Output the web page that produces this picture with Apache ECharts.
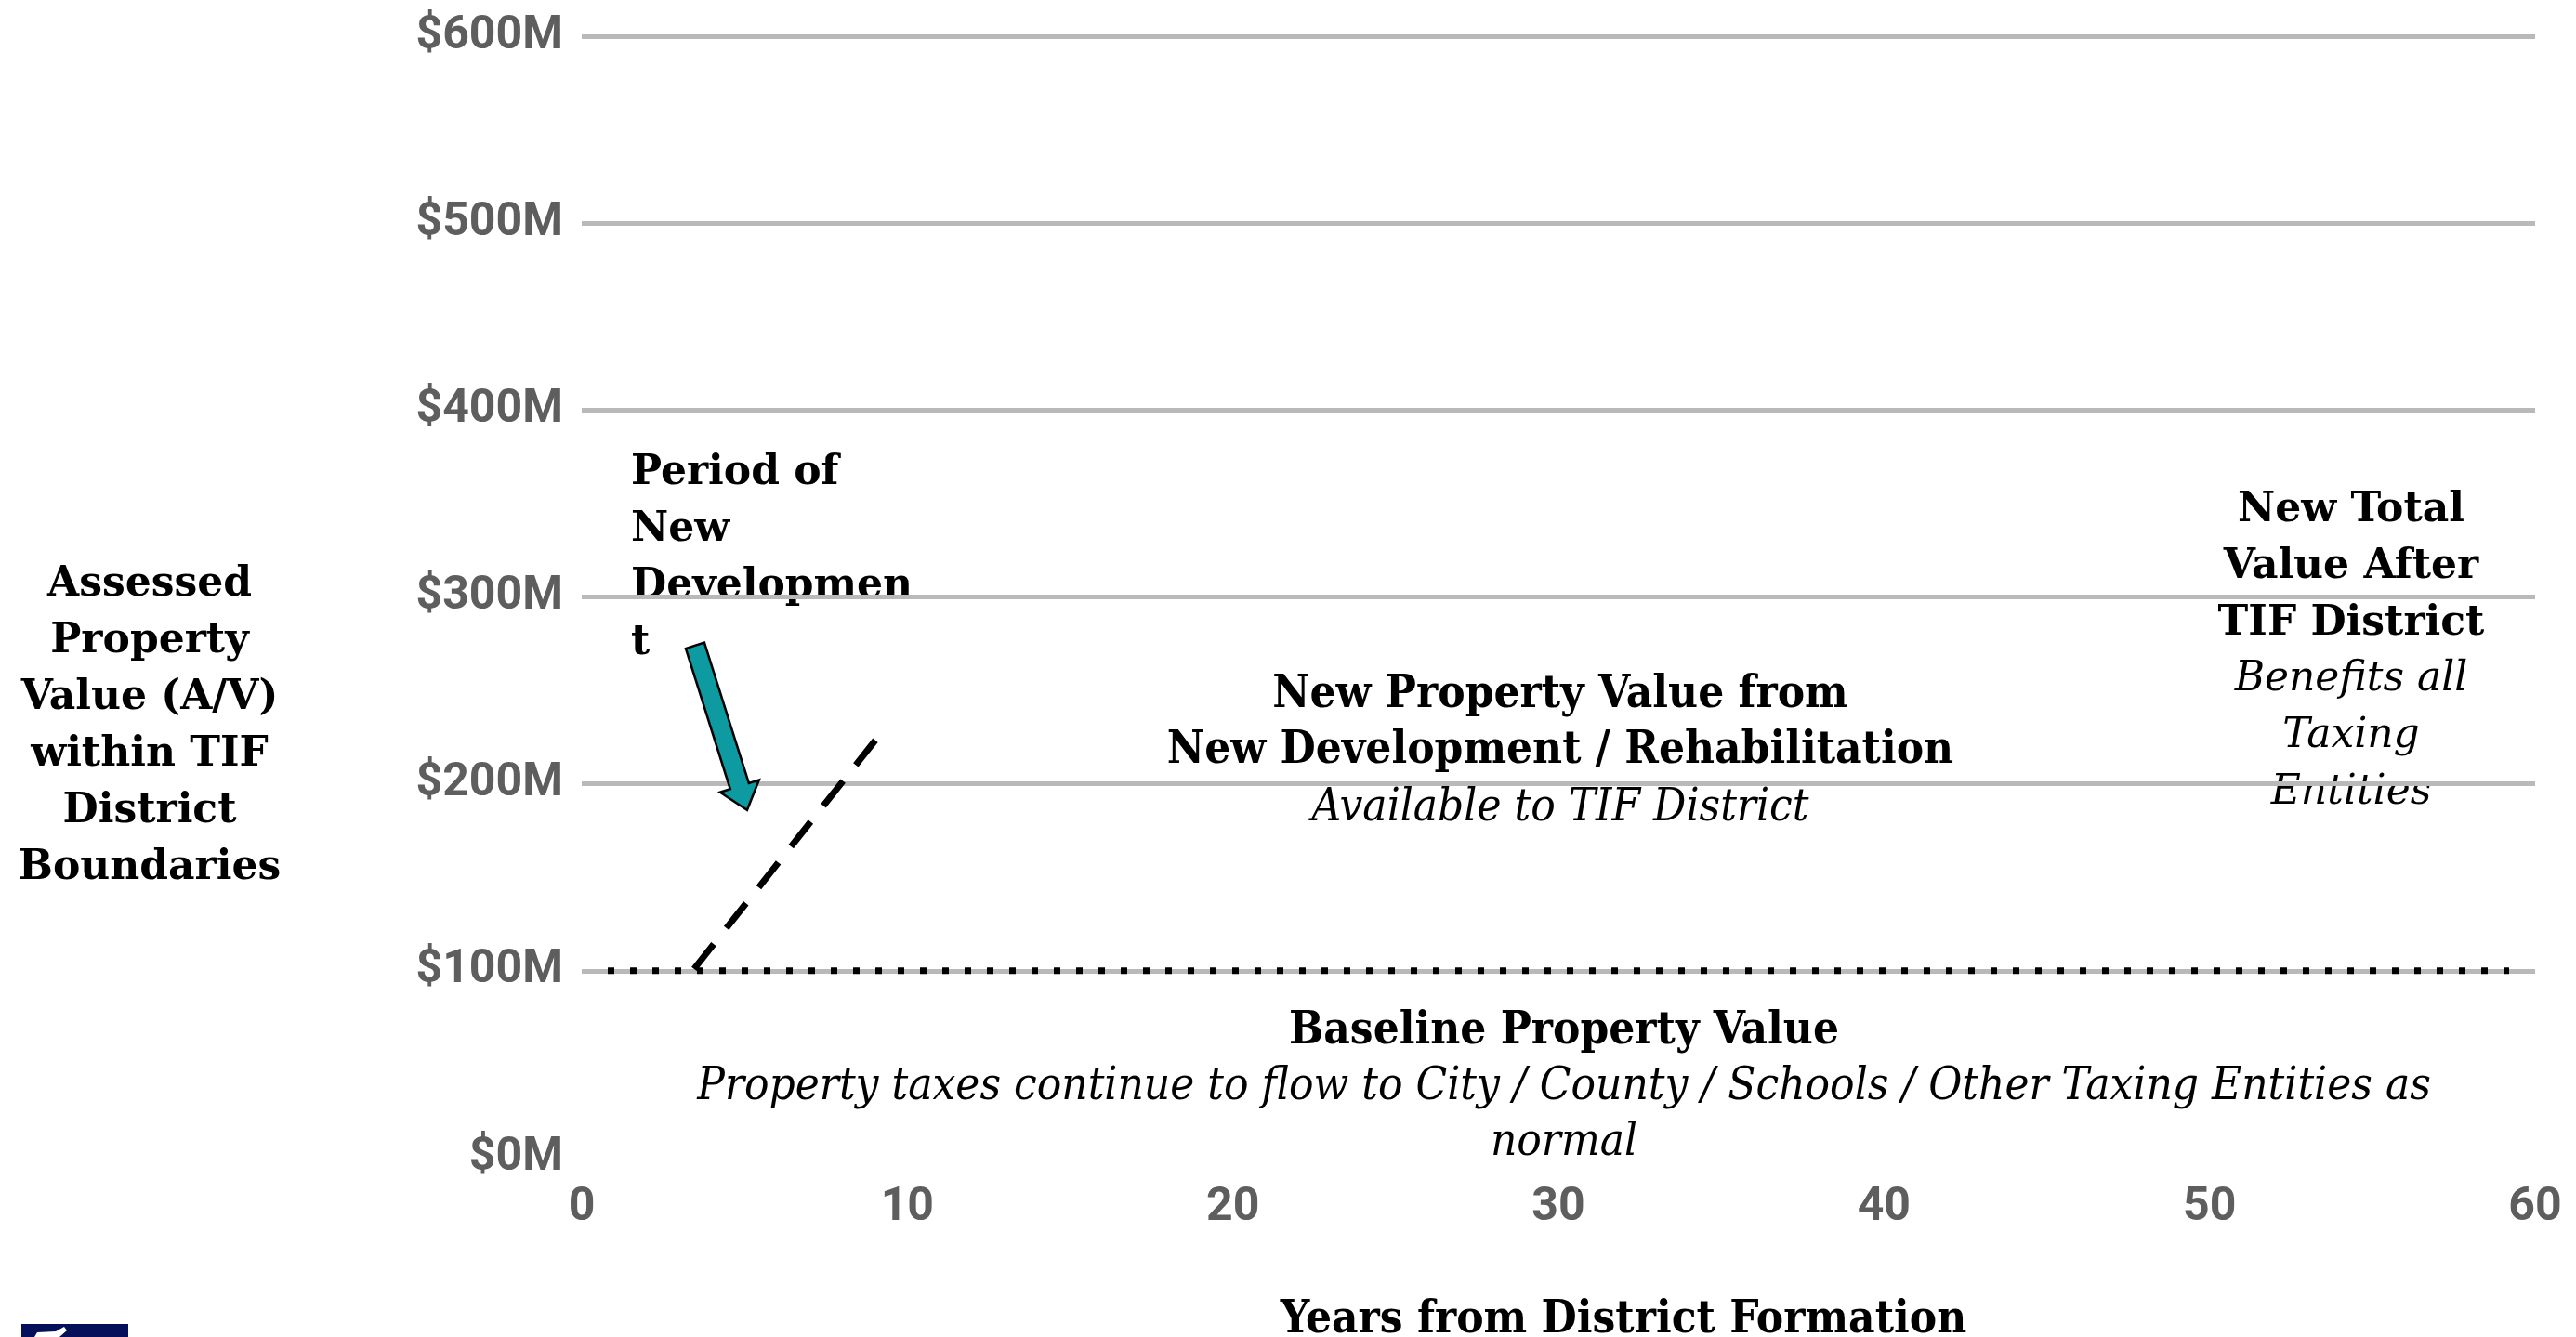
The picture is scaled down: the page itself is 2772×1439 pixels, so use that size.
<!DOCTYPE html>
<html><head><meta charset="utf-8">
<script src="https://cdn.jsdelivr.net/npm/echarts@6/dist/echarts.min.js"></script>
<style>html,body{margin:0;padding:0;background:#fff}#c{width:2772px;height:1439px}</style>
</head><body><div id="c"></div>
<script>
// ---- data ----
const xTicks = [0, 10, 20, 30, 40, 50, 60];
const yTicks = [0, 100, 200, 300, 400, 500, 600];
const baselineYears = [0.8, 59.2];
const baselineValues = [100, 100];
const developmentYears = [3.45, 9.05];
const developmentValues = [101, 224];
const arrowFrom = [3.48, 274];
const arrowTo = [5.08, 186];

const yAxisTitle = 'Assessed\nProperty\nValue (A/V)\nwithin TIF\nDistrict\nBoundaries';
const xAxisTitle = 'Years from District Formation';
const periodLabel = 'Period of\nNew\nDevelopmen\nt';
const newValueTitle = 'New Property Value from\nNew Development / Rehabilitation';
const newValueNote = 'Available to TIF District';
const baselineTitle = 'Baseline Property Value';
const baselineNote = 'Property taxes continue to flow to City / County / Schools / Other Taxing Entities as\nnormal';
const totalTitle = 'New Total\nValue After\nTIF District';
const totalNote = 'Benefits all\nTaxing\nEntities';

// ---- chart ----
const chart = echarts.init(document.getElementById('c'));
const tickFont = "Roboto,'DejaVu Sans Condensed',sans-serif";
const wideSlab = "'DejaVu Serif',serif";
const narrowSlab = "'DejaVu Serif Condensed','DejaVu Serif',serif";
const gridColors = yTicks.map((v, i) => i === 0 ? 'rgba(0,0,0,0)' : '#b9b9b9');

function txt(text, x, y, opts) {
  return {
    type: 'text', x: x, y: y, silent: true,
    style: Object.assign({ text: text, fill: '#000', align: 'center', verticalAlign: 'top' }, opts)
  };
}

chart.setOption({
  animation: false,
  backgroundColor: '#fff',
  grid: { left: 626, right: 44, top: 39, bottom: 193, outerBoundsMode: 'none' },
  xAxis: {
    type: 'value', min: xTicks[0], max: xTicks[xTicks.length - 1], interval: 10,
    axisLine: { show: false }, axisTick: { show: false }, splitLine: { show: false },
    axisLabel: { margin: 29, color: '#5e5e5e', fontFamily: tickFont, fontWeight: 'bold', fontSize: 50 }
  },
  yAxis: {
    type: 'value', min: yTicks[0], max: yTicks[yTicks.length - 1], interval: 100,
    axisLine: { show: false }, axisTick: { show: false },
    splitLine: { show: true, lineStyle: { color: gridColors, width: 5 } },
    axisLabel: {
      margin: 20, color: '#5e5e5e', fontFamily: tickFont, fontWeight: 'bold', fontSize: 50,
      formatter: v => '$' + v + 'M'
    }
  },
  series: [
    {
      type: 'line', name: 'Baseline', symbol: 'none', silent: true,
      data: baselineYears.map((x, i) => [x, baselineValues[i]]),
      lineStyle: { color: '#000', width: 7, type: [7, 17], cap: 'butt' }
    },
    {
      type: 'line', name: 'Development', symbol: 'none', silent: true,
      data: developmentYears.map((x, i) => [x, developmentValues[i]]),
      lineStyle: { color: '#000', width: 7, type: [34, 22], cap: 'butt' }
    },
    {
      type: 'custom', name: 'Arrow', silent: true,
      data: [[arrowFrom[0], arrowFrom[1], arrowTo[0], arrowTo[1]]],
      encode: { x: [0, 2], y: [1, 3] },
      renderItem: (params, api) => {
        const p0 = api.coord([api.value(0), api.value(1)]);
        const p1 = api.coord([api.value(2), api.value(3)]);
        const dx = p1[0] - p0[0], dy = p1[1] - p0[1];
        const len = Math.hypot(dx, dy);
        const ux = dx / len, uy = dy / len;
        const nx = -uy, ny = ux;
        const sw = 10.5, hw = 22, hl = 27;
        const bx = p1[0] - ux * hl, by = p1[1] - uy * hl;
        const pts = [
          [p0[0] + nx * sw, p0[1] + ny * sw],
          [bx + nx * sw, by + ny * sw],
          [bx + nx * hw, by + ny * hw],
          [p1[0], p1[1]],
          [bx - nx * hw, by - ny * hw],
          [bx - nx * sw, by - ny * sw],
          [p0[0] - nx * sw, p0[1] - ny * sw]
        ];
        return { type: 'polygon', shape: { points: pts }, style: { fill: '#0d9ba1', stroke: '#000', lineWidth: 2.5 } };
      }
    }
  ],
  graphic: [
    txt(yAxisTitle, 161, 599, { font: "bold 44px " + wideSlab, lineHeight: 61 }),
    txt(periodLabel, 679, 479, { font: "bold 44px " + wideSlab, lineHeight: 61, align: 'left' }),
    txt(newValueTitle, 1679, 718, { font: "bold 49px " + narrowSlab, lineHeight: 60 }),
    txt(newValueNote, 1679, 840, { font: "italic 49px " + narrowSlab, lineHeight: 60 }),
    txt(baselineTitle, 1683, 1080, { font: "bold 49px " + narrowSlab, lineHeight: 60 }),
    txt(baselineNote, 1683, 1140, { font: "italic 49px " + narrowSlab, lineHeight: 60 }),
    txt(totalTitle, 2530, 519, { font: "bold 44px " + wideSlab, lineHeight: 61 }),
    txt(totalNote, 2530, 701, { font: "italic 44px " + wideSlab, lineHeight: 61 }),
    txt(xAxisTitle, 1747, 1393, { font: "bold 49px " + narrowSlab, lineHeight: 56 }),
    { type: 'rect', shape: { x: 23, y: 1425, width: 115, height: 20 }, style: { fill: '#06105a' }, silent: true },
    { type: 'polygon', shape: { points: [[37, 1439], [40, 1434], [60, 1433], [69, 1428], [72, 1432], [64, 1439]] }, style: { fill: '#fff' }, silent: true }
  ]
});
</script>
</body></html>
